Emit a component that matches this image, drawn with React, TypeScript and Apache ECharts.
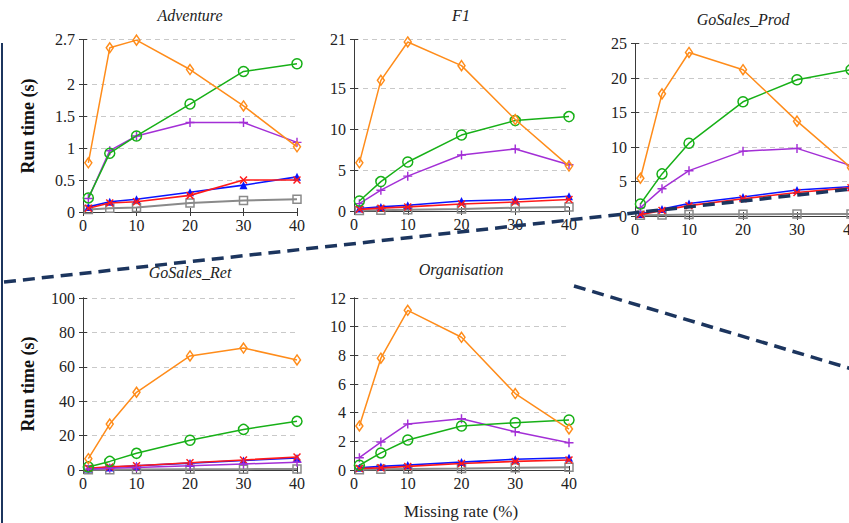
import React, { useEffect, useRef } from "react";
import * as echarts from "echarts";

const missingRates = [1, 5, 10, 20, 30, 40];
const xTicks = [0, 10, 20, 30, 40];

const adventureDiamond = [0.77, 2.57, 2.69, 2.23, 1.66, 1.02];
const adventureCircle = [0.22, 0.92, 1.19, 1.69, 2.2, 2.32];
const adventurePlus = [0.21, 0.96, 1.19, 1.4, 1.4, 1.09];
const adventureTriangle = [0.08, 0.16, 0.2, 0.31, 0.42, 0.55];
const adventureCross = [0.06, 0.14, 0.16, 0.26, 0.5, 0.5];
const adventureSquare = [0.04, 0.06, 0.07, 0.14, 0.18, 0.2];

const f1Diamond = [5.9, 16.0, 20.7, 17.8, 11.2, 5.5];
const f1Circle = [1.23, 3.6, 6.0, 9.3, 11.07, 11.56];
const f1Plus = [0.9, 2.55, 4.27, 6.85, 7.6, 5.66];
const f1Triangle = [0.3, 0.5, 0.7, 1.23, 1.4, 1.8];
const f1Cross = [0.2, 0.35, 0.5, 0.85, 1.1, 1.4];
const f1Square = [0.05, 0.1, 0.15, 0.25, 0.4, 0.5];

const prodDiamond = [5.47, 17.7, 23.7, 21.2, 13.75, 7.0];
const prodCircle = [1.74, 6.1, 10.55, 16.55, 19.74, 21.2];
const prodPlus = [1.2, 3.96, 6.57, 9.4, 9.8, 7.3];
const prodTriangle = [0.3, 1.0, 1.8, 2.76, 3.77, 4.25];
const prodCross = [0.2, 0.8, 1.5, 2.5, 3.4, 4.1];
const prodSquare = [0.1, 0.15, 0.2, 0.25, 0.3, 0.3];

const retDiamond = [6.6, 26.7, 45.2, 66.3, 70.9, 64.0];
const retCircle = [1.8, 5.0, 9.7, 17.3, 23.6, 28.3];
const retPlus = [0.5, 1, 1.5, 2.5, 3.5, 4.5];
const retTriangle = [0.8, 1.5, 2.5, 4, 5.5, 7];
const retCross = [1, 1.8, 2.5, 4.2, 5.8, 7.6];
const retSquare = [0.1, 0.2, 0.3, 0.4, 0.5, 0.6];

const orgDiamond = [3.07, 7.8, 11.14, 9.26, 5.33, 2.86];
const orgCircle = [0.33, 1.19, 2.09, 3.07, 3.3, 3.49];
const orgPlus = [0.86, 1.95, 3.21, 3.58, 2.67, 1.9];
const orgTriangle = [0.15, 0.25, 0.35, 0.55, 0.75, 0.85];
const orgCross = [0.1, 0.15, 0.25, 0.45, 0.6, 0.7];
const orgSquare = [0.02, 0.05, 0.07, 0.1, 0.15, 0.2];

const titles = ["Adventure", "F1", "GoSales_Prod", "GoSales_Ret", "Organisation"];
const yMaxes = [2.7, 21, 25, 100, 12];
const yTickLists = [
  [0, 0.5, 1, 1.5, 2, 2.7],
  [0, 5, 10, 15, 21],
  [0, 5, 10, 15, 20, 25],
  [0, 20, 40, 60, 80, 100],
  [0, 2, 4, 6, 8, 10, 12],
];
const panelData = [
  [adventureSquare, adventureTriangle, adventureCross, adventurePlus, adventureCircle, adventureDiamond],
  [f1Square, f1Triangle, f1Cross, f1Plus, f1Circle, f1Diamond],
  [prodSquare, prodTriangle, prodCross, prodPlus, prodCircle, prodDiamond],
  [retSquare, retTriangle, retCross, retPlus, retCircle, retDiamond],
  [orgSquare, orgTriangle, orgCross, orgPlus, orgCircle, orgDiamond],
];

const PLUS = "path://M4.2,0H5.8V4.2H10V5.8H5.8V10H4.2V5.8H0V4.2H4.2Z";
const CROSS = "path://M0,1.3L1.3,0L5,3.7L8.7,0L10,1.3L6.3,5L10,8.7L8.7,10L5,6.3L1.3,10L0,8.7L3.7,5Z";

const styles = [
  { color: "#8a8a8a", symbol: "rect", size: 8, hollow: true, width: 2 },
  { color: "#0a14ff", symbol: "triangle", size: 8, hollow: false, width: 1.6 },
  { color: "#ff1a1a", symbol: CROSS, size: 8, hollow: false, width: 1.6 },
  { color: "#a32fd6", symbol: PLUS, size: 9, hollow: false, width: 1.5 },
  { color: "#17b017", symbol: "circle", size: 10, hollow: true, width: 1.5 },
  { color: "#ff8c1a", symbol: "diamond", size: [7, 10], hollow: true, width: 1.5 },
];

const grids = [
  { left: 83, top: 39.5, width: 214, height: 172.5 },
  { left: 354, top: 39.5, width: 215, height: 171.5 },
  { left: 635, top: 43.5, width: 216, height: 172.5 },
  { left: 83, top: 298, width: 214, height: 172 },
  { left: 354, top: 298, width: 215, height: 172 },
];

const FONT = "'Liberation Serif', 'Times New Roman', serif";
const frameColor = "#3a3a3a";

export default function App() {
  const ref = useRef<HTMLDivElement>(null);
  useEffect(() => {
    if (!ref.current) return;
    const chart = echarts.init(ref.current, undefined, { renderer: "svg" });
    const xAxis: any[] = [];
    const yAxis: any[] = [];
    const series: any[] = [];
    grids.forEach((g, i) => {
      const axisLine = { show: true, lineStyle: { color: frameColor, width: 1 } };
      const tick = { show: true, inside: true, length: 4, lineStyle: { color: frameColor } };
      xAxis.push({
        type: "value", gridIndex: i, min: 0, max: 40, interval: 10, position: "bottom",
        axisLine, axisTick: tick, splitLine: { show: false },
        axisLabel: { show: true, margin: 5, fontFamily: FONT, fontSize: 16, color: "#222", customValues: xTicks },
      });
      xAxis.push({
        type: "value", gridIndex: i, min: 0, max: 40, interval: 10, position: "top",
        axisLine, axisTick: tick, splitLine: { show: false }, axisLabel: { show: false },
      });
      yAxis.push({
        type: "value", gridIndex: i, min: 0, max: yMaxes[i], position: "left",
        axisLine, axisTick: { ...tick, customValues: yTickLists[i] },
        splitLine: { show: true, lineStyle: { color: "#c9c9c9", type: [5, 4], width: 1 } },
        axisLabel: { show: true, margin: 8, fontFamily: FONT, fontSize: 16, color: "#222", customValues: yTickLists[i] },
      });
      yAxis.push({
        type: "value", gridIndex: i, min: 0, max: yMaxes[i], position: "right",
        axisLine, axisTick: { ...tick, customValues: yTickLists[i] },
        splitLine: { show: false }, axisLabel: { show: false },
      });
      panelData[i].forEach((vals, k) => {
        const s = styles[k];
        series.push({
          type: "line",
          xAxisIndex: i * 2,
          yAxisIndex: i * 2,
          data: missingRates.map((x, j) => [x, vals[j]]),
          symbol: s.symbol,
          symbolSize: s.size,
          showSymbol: true,
          clip: false,
          lineStyle: { color: s.color, width: s.width },
          itemStyle: s.hollow
            ? { color: "rgba(255,255,255,0)", borderColor: s.color, borderWidth: 1.5 }
            : { color: s.color, borderWidth: 0 },
          z: 3 + k,
        });
      });
    });

    const navy = "#1c355e";
    const titlePos = [
      [190, 15], [461, 15], [743, 19], [190, 272], [461, 269],
    ];
    const graphic: any[] = titlePos.map((p, i) => ({
      type: "text", x: p[0], y: p[1], z: 50,
      style: { text: titles[i], fontFamily: FONT, fontStyle: "italic", fontSize: 16, fill: "#222", align: "center", verticalAlign: "middle" },
    }));
    graphic.push(
      {
        type: "text", x: 28, y: 126, rotation: Math.PI / 2, z: 50,
        style: { text: "Run time (s)", fontFamily: FONT, fontWeight: "bold", fontSize: 18, fill: "#111", align: "center", verticalAlign: "middle" },
      },
      {
        type: "text", x: 28, y: 384, rotation: Math.PI / 2, z: 50,
        style: { text: "Run time (s)", fontFamily: FONT, fontWeight: "bold", fontSize: 18, fill: "#111", align: "center", verticalAlign: "middle" },
      },
      {
        type: "text", x: 461, y: 511, z: 50,
        style: { text: "Missing rate (%)", fontFamily: FONT, fontSize: 17, fill: "#222", align: "center", verticalAlign: "middle" },
      },
      {
        type: "line", z: 100, shape: { x1: 2, y1: 43, x2: 2, y2: 523 },
        style: { stroke: navy, lineWidth: 2 },
      },
      {
        type: "line", z: 100, shape: { x1: 4, y1: 282, x2: 852, y2: 189 },
        style: { stroke: navy, lineWidth: 3.5, lineDash: [12, 7] },
      },
      {
        type: "line", z: 100, shape: { x1: 574, y1: 286, x2: 852, y2: 369 },
        style: { stroke: navy, lineWidth: 3.5, lineDash: [12, 7] },
      }
    );

    chart.setOption({
      animation: false,
      backgroundColor: "#ffffff",
      grid: grids.map((g) => ({ ...g, containLabel: false })),
      xAxis,
      yAxis,
      series,
      graphic,
    });
    return () => chart.dispose();
  }, []);
  return (
    <div style={{ position: "absolute", left: 0, top: 0, width: 849, height: 523, overflow: "hidden", background: "#fff" }}>
      <div ref={ref} style={{ width: 870, height: 523 }} />
    </div>
  );
}
